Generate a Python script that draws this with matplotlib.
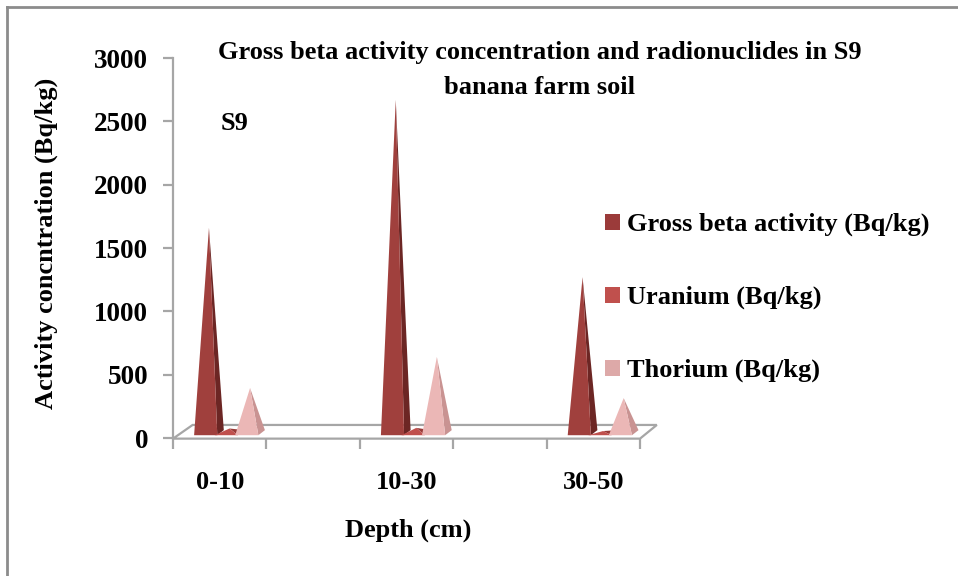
import numpy as np
import matplotlib.pyplot as plt
from matplotlib.patches import Polygon, Patch
from matplotlib.lines import Line2D

# Gross beta / uranium / thorium in S9 banana farm soil, by depth
depths = ['0-10', '10-30', '30-50']
gross_beta = [1660, 2670, 1270]
uranium = [75, 80, 55]
thorium = [395, 640, 315]

series = [
    ('Gross beta activity (Bq/kg)', gross_beta, -0.075, '#A0403D', '#6C2624', '#9B3B3A'),
    ('Uranium (Bq/kg)', uranium, 0.035, '#C0504D', '#983A37', '#C0504D'),
    ('Thorium (Bq/kg)', thorium, 0.145, '#EBB7B6', '#C99392', '#DDA9A8'),
]

plt.rcParams['font.family'] = ['Liberation Serif', 'DejaVu Serif']
plt.rcParams['font.weight'] = 'bold'

W, H = 958, 576
fig = plt.figure(figsize=(W / 100, H / 100), dpi=100)

# axes: x=-0.25 -> 173px, y=0 -> 438px, y=3000 -> 58px
x0, x1 = -0.25, 2.4
left_px, unit_px = 173, 186.8
ax_w = (x1 - x0) * unit_px
ax = fig.add_axes([left_px / W, 1 - 438 / H, ax_w / W, 380 / H])
ax.set_xlim(x0, x1)
ax.set_ylim(0, 3000)

grey = '#A6A6A6'
for s in ['top', 'right', 'bottom']:
    ax.spines[s].set_visible(False)
ax.spines['left'].set_color(grey)
ax.spines['left'].set_linewidth(1.6)

ax.set_yticks(np.arange(0, 3001, 500))
ax.tick_params(axis='y', length=7, width=1.6, color=grey, pad=11, labelsize=19.5)

# category labels on major ticks, divider ticks as minor
ax.set_xticks(range(len(depths)))
ax.set_xticklabels(depths, fontsize=19)
ax.tick_params(axis='x', which='major', length=0, pad=24)
ax.set_xticks([-0.25, 0.25, 0.75, 1.25, 1.75, 2.25], minor=True)
ax.tick_params(axis='x', which='minor', length=8, width=1.6, color=grey)

# floor of the 3-D plot
floor = Polygon([(-0.25, -5), (2.25, -5), (2.34, 103), (-0.145, 103)],
                closed=True, facecolor='white', edgecolor=grey, lw=1.6,
                clip_on=False, zorder=1)
ax.add_patch(floor)


def pyramid(ax, xc, value, front, side, hw=0.062, dx=0.035, b0=22, dy=40):
    apex = (xc + dx / 2, value)
    fl, fr = (xc - hw, b0), (xc + hw, b0)
    br = (xc + hw + dx, b0 + dy)
    ax.add_patch(Polygon([fr, br, apex], closed=True, facecolor=side,
                         edgecolor='none', clip_on=False, zorder=2))
    ax.add_patch(Polygon([fl, fr, apex], closed=True, facecolor=front,
                         edgecolor='none', clip_on=False, zorder=3))


for name, vals, off, front, side, _ in series:
    for i, v in enumerate(vals):
        pyramid(ax, i + off, v, front, side)

ax.set_ylabel('Activity concntration (Bq/kg)', fontsize=19, fontweight='bold')
ax.yaxis.set_label_coords((58 - left_px) / ax_w, (438 - 243) / 380)
fig.text(408 / W, 1 - 530 / H, 'Depth (cm)', ha='center', va='center', fontsize=19)

fig.text(540 / W, 1 - 70 / H,
         'Gross beta activity concentration and radionuclides in S9\nbanana farm soil',
         ha='center', va='center', fontsize=19, linespacing=1.65)
fig.text(235 / W, 1 - 124 / H, 'S9', ha='center', va='center', fontsize=19)

handles = [Patch(facecolor=c, edgecolor='none') for *_, c in series]
fig.legend(handles, [s[0] for s in series], loc='upper left',
           bbox_to_anchor=(605 / W, 1 - 213 / H), frameon=False, fontsize=19,
           handlelength=0.55, handleheight=0.55, handletextpad=0.3,
           labelspacing=1.88, borderpad=0, borderaxespad=0)

# border around the chart area (top and left edges)
fig.add_artist(Line2D([7 / W, 7 / W], [0, 1 - 7 / H], color='#8C8C8C', lw=2))
fig.add_artist(Line2D([7 / W, 1], [1 - 7 / H, 1 - 7 / H], color='#8C8C8C', lw=2))

fig.savefig('out.png', dpi=100)
